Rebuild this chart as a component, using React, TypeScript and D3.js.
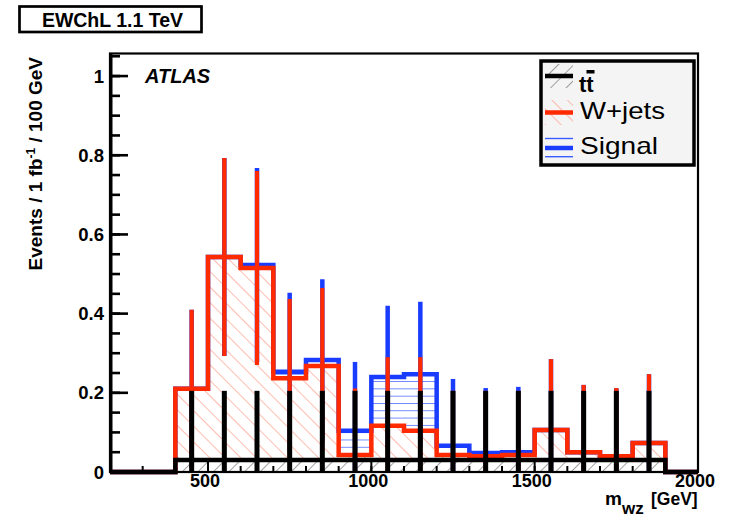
import React from 'react';
import * as d3 from 'd3';

const binLow = [400, 500, 600, 700, 800, 900, 1000, 1100, 1200, 1300, 1400, 1500, 1600, 1700, 1800];
const binWidth = 100;
const ttbar = [0.03, 0.03, 0.03, 0.03, 0.03, 0.03, 0.03, 0.03, 0.03, 0.03, 0.03, 0.03, 0.03, 0.03, 0.03];
const ttbarErr = [0.175, 0.175, 0.175, 0.175, 0.175, 0.175, 0.175, 0.175, 0.175, 0.175, 0.175, 0.175, 0.175, 0.175, 0.175];
const wjets = [0.18, 0.513, 0.485, 0.207, 0.238, 0.013, 0.087, 0.074, 0.013, 0.01, 0.013, 0.076, 0.02, 0.01, 0.043];
const wjetsErr = [0.2, 0.25, 0.245, 0.2, 0.197, 0.168, 0.173, 0.186, 0.162, 0.165, 0.162, 0.179, 0.17, 0.172, 0.174];
const signal = [0, 0, 0.008, 0.016, 0.015, 0.061, 0.123, 0.143, 0.023, 0.008, 0.007, 0, 0, 0, 0];
const signalErr = [0.2, 0.25, 0.245, 0.2, 0.204, 0.174, 0.18, 0.183, 0.169, 0.164, 0.165, 0.179, 0.17, 0.172, 0.174];

const yTicks = [0, 0.2, 0.4, 0.6, 0.8, 1];
const yTickLabels = ['0', '0.2', '0.4', '0.6', '0.8', '1'];
const xTicks = [500, 1000, 1500, 2000];
const xTickLabels = ['500', '1000', '1500', '2000'];
const legendLabels = ['tt', 'W+jets', 'Signal'];

const FONT = '"Liberation Sans", Arial, Helvetica, sans-serif';
const RED = '#ff2a00';
const BLUE = '#1a3cff';
const RED_HATCH = '#ff8f78';
const BLUE_HATCH = '#3a5cff';

export default function App() {
  const x = d3.scaleLinear().domain([200, 2000]).range([110, 698]);
  const y = d3.scaleLinear().domain([0, 1.057]).range([472, 53.5]);

  const stackW = binLow.map((_, i) => ttbar[i] + wjets[i]);
  const stackS = binLow.map((_, i) => stackW[i] + signal[i]);

  const stepPath = (vals: number[]) => {
    const pts: [number, number][] = [[200, 0], [300, 0]];
    binLow.forEach((b, i) => pts.push([b, vals[i]]));
    pts.push([1900, 0]);
    pts.push([2000, 0]);
    return d3.line<[number, number]>().x(d => x(d[0])).y(d => y(d[1])).curve(d3.curveStepAfter)(pts) || '';
  };

  const errBars = (vals: number[], errs: number[], color: string, w: number, key: string) =>
    binLow.map((b, i) => (
      <line key={key + i} x1={x(b + binWidth / 2)} x2={x(b + binWidth / 2)}
        y1={y(Math.max(0, vals[i] - errs[i]))} y2={y(vals[i] + errs[i])}
        stroke={color} strokeWidth={w} />
    ));

  const yMinor = d3.range(0, 1.0501, 0.05);
  const xMinor = d3.range(200, 2001, 100);

  return (
    <svg width={732} height={518} style={{ position: 'absolute', left: 0, top: 0, background: '#fff' }}
      fontFamily={FONT}>
      <defs>
        <pattern id="redHatch" patternUnits="userSpaceOnUse" width={11} height={11} patternTransform="rotate(-45)">
          <line x1={0} y1={0} x2={0} y2={11} stroke={RED_HATCH} strokeWidth={1.2} />
        </pattern>
        <pattern id="grayHatch" patternUnits="userSpaceOnUse" width={11} height={11} patternTransform="rotate(45)">
          <line x1={0} y1={0} x2={0} y2={11} stroke="#555" strokeWidth={1.1} />
        </pattern>
        <pattern id="blueHatch" patternUnits="userSpaceOnUse" width={20} height={7.3} y={1.5}>
          <line x1={0} y1={0} x2={20} y2={0} stroke={BLUE_HATCH} strokeWidth={1.4} />
        </pattern>
      </defs>

      {/* title box */}
      <rect x={19.5} y={6.5} width={182} height={25.5} fill="#fff" stroke="#000" strokeWidth={2.7} />
      <text x={112.5} y={27} textAnchor="middle" fontSize={19.5} fontWeight="bold">EWChL 1.1 TeV</text>

      {/* hatched fills */}
      {binLow.map((b, i) => (
        <rect key={'g' + i} x={x(b)} width={x(b + binWidth) - x(b)} y={y(ttbar[i])} height={y(0) - y(ttbar[i])} fill="url(#grayHatch)" />
      ))}
      {binLow.map((b, i) => (
        <rect key={'r' + i} x={x(b)} width={x(b + binWidth) - x(b)} y={y(stackW[i])} height={y(ttbar[i]) - y(stackW[i])} fill="url(#redHatch)" />
      ))}
      {binLow.map((b, i) => signal[i] > 0 ? (
        <rect key={'b' + i} x={x(b)} width={x(b + binWidth) - x(b)} y={y(stackS[i])} height={y(stackW[i]) - y(stackS[i])} fill="url(#blueHatch)" />
      ) : null)}

      {/* signal (total stack) */}
      <path d={stepPath(stackS)} fill="none" stroke={BLUE} strokeWidth={4.5} />
      {errBars(stackS, signalErr, BLUE, 4.5, 'be')}
      {/* W+jets stack */}
      <path d={stepPath(stackW)} fill="none" stroke={RED} strokeWidth={4.5} />
      {errBars(stackW, wjetsErr, RED, 4.2, 're')}
      {/* ttbar */}
      <path d={stepPath(ttbar)} fill="none" stroke="#000" strokeWidth={4.5} />
      {errBars(ttbar, ttbarErr, '#000', 5, 'ke')}

      {/* frame */}
      <rect x={110} y={53.5} width={588} height={418.5} fill="none" stroke="#000" strokeWidth={2.2} />
      <line x1={111} x2={111} y1={53.5} y2={473} stroke="#000" strokeWidth={3} />

      {/* y ticks */}
      {yMinor.map((v, i) => (
        <line key={'ym' + i} x1={110} x2={120} y1={y(v)} y2={y(v)} stroke="#000" strokeWidth={2.6} />
      ))}
      {yTicks.map((v, i) => (
        <g key={'yt' + i}>
          <line x1={110} x2={128} y1={y(v)} y2={y(v)} stroke="#000" strokeWidth={2.6} />
          <text x={104} y={y(v) + 6.5} textAnchor="end" fontSize={18.5} fontWeight="bold">{yTickLabels[i]}</text>
        </g>
      ))}
      {/* x ticks */}
      {xMinor.map((v, i) => (
        <line key={'xm' + i} x1={x(v)} x2={x(v)} y1={472} y2={466} stroke="#000" strokeWidth={2} />
      ))}
      {xTicks.map((v, i) => (
        <g key={'xt' + i}>
          <line x1={x(v)} x2={x(v)} y1={472} y2={461} stroke="#000" strokeWidth={2} />
          <text x={x(v) - 3} y={487} textAnchor="middle" fontSize={18} fontWeight="bold">{xTickLabels[i]}</text>
        </g>
      ))}

      {/* axis titles */}
      <text transform="translate(42,57) rotate(-90)" textAnchor="end" fontSize={19} fontWeight="bold">
        Events / 1 fb<tspan dy={-7} fontSize={12}>-1</tspan><tspan dy={7}> / 100 GeV</tspan>
      </text>
      <text x={605} y={505} fontSize={19} fontWeight="bold">m</text>
      <text x={622} y={514} fontSize={17} fontWeight="bold">wz</text>
      <text x={651} y={505} fontSize={17.5} fontWeight="bold">[GeV]</text>

      {/* ATLAS label */}
      <text x={145} y={83} fontSize={20} fontWeight="bold" fontStyle="italic">ATLAS</text>

      {/* legend */}
      <rect x={541} y={61} width={153} height={104} fill="#f4f4f4" stroke="#000" strokeWidth={3.5} />
      <rect x={545} y={64} width={28} height={24} fill="url(#grayHatch)" />
      <line x1={545} x2={573} y1={76} y2={76} stroke="#000" strokeWidth={4.5} />
      <text x={579} y={92} fontSize={22} fontWeight="bold">{legendLabels[0]}</text>
      <rect x={586.5} y={70} width={8} height={3.5} fill="#000" />

      <rect x={545} y={100} width={28} height={25} fill="url(#redHatch)" />
      <line x1={545} x2={573} y1={112.5} y2={112.5} stroke={RED} strokeWidth={4.5} />
      <text x={580} y={119} fontSize={24} textLength={85} lengthAdjust="spacingAndGlyphs">{legendLabels[1]}</text>

      <line x1={545} x2={573} y1={138.5} y2={138.5} stroke={BLUE_HATCH} strokeWidth={1.4} />
      <line x1={545} x2={573} y1={156.7} y2={156.7} stroke={BLUE_HATCH} strokeWidth={1.4} />
      <line x1={545} x2={573} y1={148} y2={148} stroke={BLUE} strokeWidth={4.5} />
      <text x={580} y={154} fontSize={24} textLength={78} lengthAdjust="spacingAndGlyphs">{legendLabels[2]}</text>
    </svg>
  );
}
